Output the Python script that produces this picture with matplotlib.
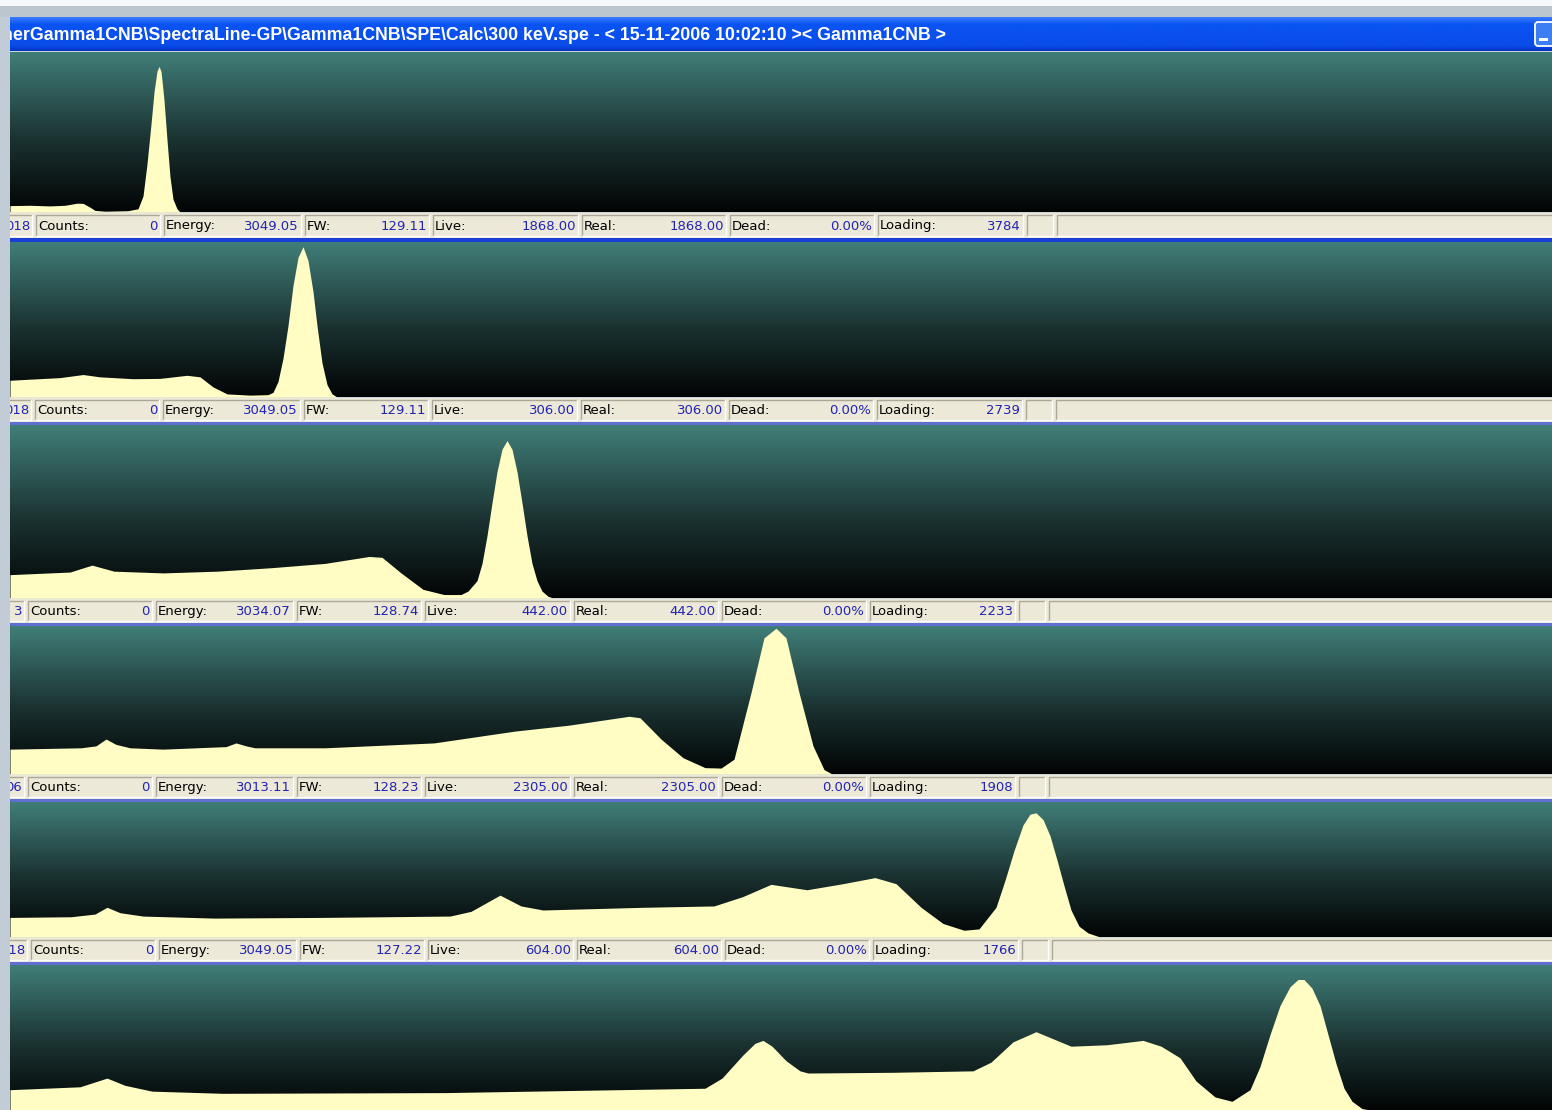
import numpy as np
import matplotlib.pyplot as plt
from matplotlib.patches import Rectangle, FancyBboxPatch
from matplotlib.colors import LinearSegmentedColormap

W, H = 1552, 1110

title = r"nerGamma1CNB\SpectraLine-GP\Gamma1CNB\SPE\Calc\300 keV.spe - < 15-11-2006 10:02:10 >< Gamma1CNB >"

# spectra: channel vs counts (fraction of full scale)
ch1 = [0, 20, 40, 55, 67, 73, 80, 85, 95, 118, 128, 133, 137, 141, 144, 147, 149, 151, 154, 157, 160, 163, 167, 170, 1542]
cnt1 = [0.04, 0.042, 0.038, 0.042, 0.055, 0.054, 0.03, 0.01, 0.005, 0.008, 0.02, 0.1, 0.3, 0.55, 0.75, 0.88, 0.91, 0.88, 0.7, 0.45, 0.22, 0.08, 0.02, 0.0, 0.0]

ch2 = [0, 20, 50, 73, 90, 123, 150, 177, 190, 203, 217, 240, 258, 263, 268, 273, 278, 283, 288, 293, 298, 303, 307, 312, 317, 322, 327, 1542]
cnt2 = [0.108, 0.115, 0.125, 0.145, 0.13, 0.118, 0.12, 0.14, 0.13, 0.065, 0.02, 0.012, 0.015, 0.03, 0.1, 0.25, 0.46, 0.72, 0.9, 0.97, 0.88, 0.68, 0.46, 0.22, 0.08, 0.02, 0.0, 0.0]

ch3 = [0, 60, 82, 104, 153, 207, 261, 315, 359, 372, 391, 413, 434, 451, 458, 467, 472, 477, 482, 487, 492, 497, 502, 507, 512, 517, 522, 527, 532, 538, 543, 1542]
cnt3 = [0.135, 0.15, 0.19, 0.155, 0.145, 0.155, 0.175, 0.2, 0.24, 0.235, 0.145, 0.05, 0.02, 0.02, 0.04, 0.1, 0.2, 0.36, 0.55, 0.73, 0.86, 0.91, 0.86, 0.73, 0.55, 0.36, 0.2, 0.1, 0.04, 0.01, 0.0, 0.0]

ch4 = [0, 71, 86, 96, 106, 120, 153, 216, 226, 236, 245, 315, 424, 505, 559, 619, 630, 651, 673, 695, 711, 724, 741, 754, 766, 776, 789, 803, 814, 822, 1542]
cnt4 = [0.168, 0.177, 0.19, 0.236, 0.2, 0.177, 0.168, 0.185, 0.21, 0.19, 0.177, 0.177, 0.21, 0.29, 0.33, 0.39, 0.38, 0.236, 0.11, 0.043, 0.04, 0.1, 0.55, 0.92, 0.985, 0.92, 0.55, 0.19, 0.03, 0.0, 0.0]

ch5 = [0, 61, 85, 97, 110, 133, 204, 311, 440, 461, 490, 511, 533, 633, 704, 733, 761, 797, 833, 865, 886, 911, 933, 954, 969, 986, 995, 1004, 1013, 1020, 1026, 1033, 1040, 1047, 1054, 1061, 1069, 1078, 1090, 1542]
cnt5 = [0.145, 0.15, 0.17, 0.22, 0.18, 0.155, 0.14, 0.145, 0.155, 0.19, 0.31, 0.23, 0.2, 0.22, 0.23, 0.3, 0.39, 0.35, 0.395, 0.44, 0.395, 0.22, 0.1, 0.05, 0.06, 0.22, 0.42, 0.64, 0.83, 0.91, 0.92, 0.87, 0.75, 0.57, 0.38, 0.2, 0.08, 0.03, 0.0, 0.0]

ch6 = [0, 70, 97, 115, 142, 213, 436, 695, 712, 733, 745, 753, 762, 776, 790, 798, 883, 963, 981, 1003, 1026, 1061, 1097, 1133, 1151, 1170, 1186, 1205, 1222, 1240, 1250, 1260, 1270, 1280, 1288, 1294, 1302, 1310, 1318, 1326, 1334, 1342, 1352, 1360, 1542]
cnt6 = [0.14, 0.16, 0.22, 0.17, 0.13, 0.115, 0.12, 0.15, 0.22, 0.38, 0.46, 0.48, 0.44, 0.34, 0.27, 0.255, 0.26, 0.27, 0.33, 0.47, 0.54, 0.44, 0.45, 0.48, 0.44, 0.36, 0.2, 0.09, 0.06, 0.14, 0.3, 0.52, 0.72, 0.85, 0.9, 0.9, 0.84, 0.72, 0.52, 0.32, 0.15, 0.06, 0.01, 0.0, 0.0]

spectra = [(ch1, cnt1), (ch2, cnt2), (ch3, cnt3), (ch4, cnt4), (ch5, cnt5), (ch6, cnt6)]

# status bar readouts
first_cell = ["018", "018", "3", "06", "018"]
counts_vals = ["0", "0", "0", "0", "0"]
energy_vals = ["3049.05", "3049.05", "3034.07", "3013.11", "3049.05"]
fw_vals = ["129.11", "129.11", "128.74", "128.23", "127.22"]
live_vals = ["1868.00", "306.00", "442.00", "2305.00", "604.00"]
real_vals = ["1868.00", "306.00", "442.00", "2305.00", "604.00"]
dead_vals = ["0.00%", "0.00%", "0.00%", "0.00%", "0.00%"]
loading_vals = ["3784", "2739", "2233", "1908", "1766"]
field_names = ["Counts:", "Energy:", "FW:", "Live:", "Real:", "Dead:", "Loading:"]

# pixel layout
panel_rows = [(52, 212), (242, 397), (425, 598), (626, 774), (802, 937), (965, 1110)]
status_rows = [(213, 238), (398, 422), (599, 623), (775, 799), (938, 962)]
sep_rows = [(238, 242), (422, 425), (623, 626), (799, 802), (962, 965)]
sep_colors = ["#1a3fd6", "#5f6fd2", "#5f6fd2", "#5f6fd2", "#5f6fd2"]
cell_edges = [34, 162, 303, 431, 580, 728, 876, 1025, 1055]
cell_shift = [0, -1, -8, -8, -5]

X0 = 10
BAR_BG = "#ece9d8"
VAL_COLOR = "#2323b4"
SPEC_COLOR = "#fffdc4"

teal = LinearSegmentedColormap.from_list(
    "teal", [(0.0, "#020404"), (0.45, "#1a3231"), (1.0, "#417e78")])
blue = LinearSegmentedColormap.from_list(
    "blue", [(0.0, "#0036c4"), (0.15, "#0a4ce8"), (0.8, "#0a54f4"), (1.0, "#3a7cff")])


def box(x0, y0, x1, y1):
    return [x0 / W, 1 - y1 / H, (x1 - x0) / W, (y1 - y0) / H]


fig = plt.figure(figsize=(W / 100, H / 100), dpi=100)
fig.patch.set_facecolor("#c9d3dc")

# window frame
bg = fig.add_axes([0, 0, 1, 1])
bg.set_xlim(0, W)
bg.set_ylim(H, 0)
bg.axis("off")
bg.add_patch(Rectangle((0, 0), W, 6, color="#f6f8fa", lw=0))
bg.add_patch(Rectangle((0, 6), W, 11, color="#bcc6ce", lw=0))
bg.add_patch(Rectangle((0, 17), X0, H, color="#c2ccd6", lw=0))

# title bar
tb = fig.add_axes(box(X0, 17, W, 51))
tb.imshow(np.linspace(0, 1, 64).reshape(-1, 1), cmap=blue, aspect="auto",
          origin="lower", extent=(X0, W, 51, 17))
tb.set_xlim(X0, W)
tb.set_ylim(51, 17)
tb.axis("off")
tb.text(2, 35, title, color="white", fontsize=12.8, fontweight="bold",
        family="Liberation Sans", va="center", ha="left", clip_on=True)
tb.add_patch(FancyBboxPatch((1535, 22), 22, 24, boxstyle="round,pad=0,rounding_size=3",
                            fc="#3d7ff2", ec="white", lw=1.3))
tb.add_patch(Rectangle((1539, 38), 9, 3, color="white", lw=0))

# spectrum panels
for (top, bot), (ch, cnt) in zip(panel_rows, spectra):
    ax = fig.add_axes(box(X0, top, W, bot))
    ax.imshow(np.linspace(0, 1, 256).reshape(-1, 1), cmap=teal, aspect="auto",
              origin="lower", extent=(0, 1542, 0, 1))
    ax.fill_between(ch, cnt, 0, color=SPEC_COLOR, lw=0)
    ax.set_xlim(0, 1542)
    ax.set_ylim(0, 1)
    ax.axis("off")

# status bars
for i, (top, bot) in enumerate(status_rows):
    sa = fig.add_axes(box(X0, top, W, sep_rows[i][1]))
    sa.set_xlim(X0, W)
    sa.set_ylim(sep_rows[i][1], top)
    sa.axis("off")
    sa.add_patch(Rectangle((X0, top), W, bot - top, color=BAR_BG, lw=0))
    sa.add_patch(Rectangle((X0, sep_rows[i][0]), W, sep_rows[i][1] - sep_rows[i][0],
                           color=sep_colors[i], lw=0))
    edges = [e + cell_shift[i] for e in cell_edges]
    bounds = [X0 - 20] + edges + [W + 20]
    for a, b in zip(bounds[:-1], bounds[1:]):
        y0, y1 = top + 2, bot - 2
        sa.plot([a + 2, a + 2, b - 2], [y1, y0, y0], color="#aca899", lw=1)
        sa.plot([a + 2, b - 2, b - 2], [y1, y1, y0], color="white", lw=1)
    yc = (top + bot) / 2 + 0.5
    sa.text(edges[0] - 4, yc, first_cell[i], color=VAL_COLOR, fontsize=9.5,
            ha="right", va="center", clip_on=True)
    vals = [counts_vals[i], energy_vals[i], fw_vals[i], live_vals[i],
            real_vals[i], dead_vals[i], loading_vals[i]]
    for k, (name, val) in enumerate(zip(field_names, vals)):
        sa.text(edges[k] + 4, yc, name, color="black", fontsize=9.5, ha="left", va="center")
        sa.text(edges[k + 1] - 4, yc, val, color=VAL_COLOR, fontsize=9.5, ha="right", va="center")

fig.savefig("out.png", dpi=100, facecolor=fig.get_facecolor())
